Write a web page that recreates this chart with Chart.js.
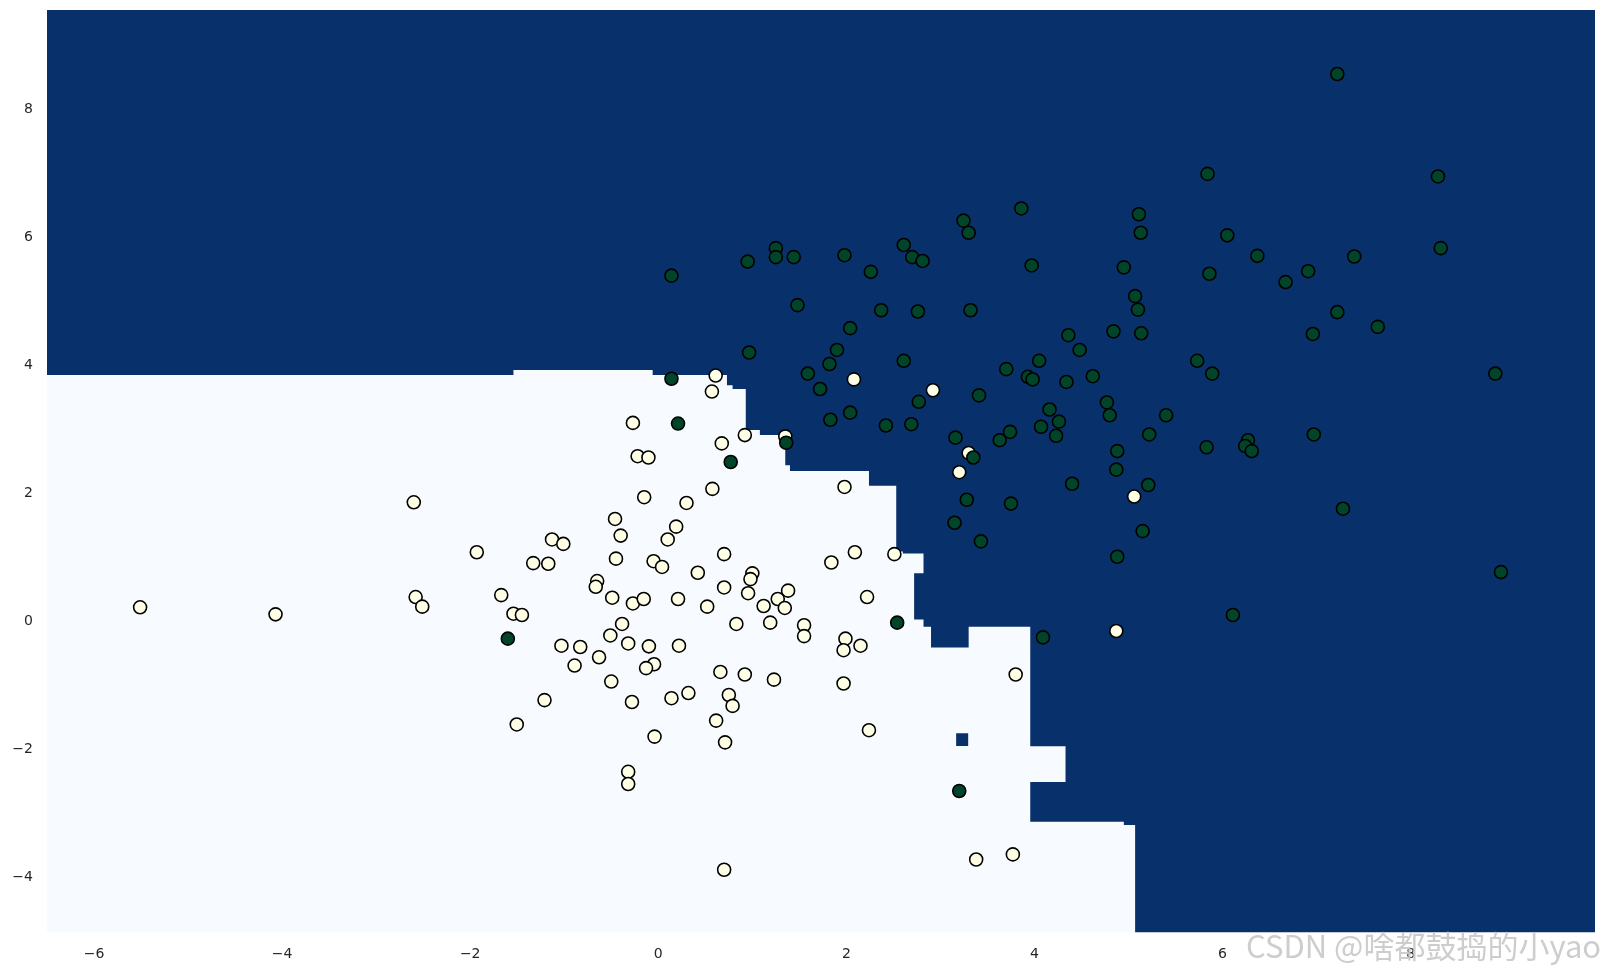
<!DOCTYPE html>
<html>
<head>
<meta charset="utf-8">
<script src="https://cdn.jsdelivr.net/npm/chart.js@4.4.1/dist/chart.umd.min.js"></script>
<style>
  body { margin: 0; background: #fff; }
  #wrap { position: relative; width: 1605px; height: 972px; }
  #marca {
    position: absolute; left: 1246px; top: 929px;
    font-family: "Noto Sans CJK SC", "Noto Sans", sans-serif; font-size: 31px; line-height: 31px;
    color: rgba(200, 200, 200, 0.9); white-space: nowrap;
  }
</style>
</head>
<body>
<div id="wrap">
  <canvas id="grafico" width="1605" height="972"></canvas>
  <div id="marca">CSDN @啥都鼓捣的小yao</div>
</div>
<script>
// ticks
const ticksX = [-6, -4, -2, 0, 2, 4, 6, 8];
const ticksY = [-4, -2, 0, 2, 4, 6, 8];

// classe 0 (pontos claros)
const classe0 = [
  [-5.51, 0.19], [-4.07, 0.08], [-2.60, 1.83], [-2.58, 0.35], [-2.51, 0.20],
  [-1.93, 1.05], [-1.67, 0.38], [-1.54, 0.09], [-1.45, 0.07], [-1.33, 0.88],
  [-1.17, 0.87], [-1.13, 1.25], [-1.01, 1.18], [-1.03, -0.41], [-0.83, -0.43],
  [-0.63, -0.59], [-0.89, -0.72], [-0.51, -0.25], [-0.32, -0.375], [-0.10, -0.42],
  [0.22, -0.41], [-0.045, -0.70], [-0.13, -0.76], [-0.50, -0.97], [-1.21, -1.26],
  [-1.505, -1.64], [-0.28, -1.29], [0.14, -1.23], [0.32, -1.15], [-0.04, -1.83],
  [-0.32, -2.38], [-0.32, -2.57], [-0.27, 3.07], [-0.22, 2.55], [-0.105, 2.53],
  [-0.15, 1.91], [0.30, 1.82], [-0.46, 1.57], [0.19, 1.45], [-0.40, 1.31],
  [0.10, 1.25], [-0.45, 0.95], [-0.05, 0.91], [0.04, 0.82], [0.42, 0.73],
  [-0.65, 0.60], [-0.665, 0.51], [-0.49, 0.34], [-0.27, 0.25], [-0.155, 0.32],
  [0.21, 0.32], [-0.385, -0.07], [0.61, 3.81], [0.57, 3.56], [0.92, 2.88],
  [1.35, 2.86], [0.675, 2.75], [0.575, 2.04], [1.98, 2.07], [0.70, 1.02],
  [2.09, 1.05], [1.84, 0.89], [2.51, 1.02], [1.00, 0.72], [0.98, 0.63],
  [0.70, 0.50], [0.955, 0.41], [1.38, 0.45], [1.27, 0.32], [1.345, 0.18],
  [1.12, 0.21], [0.52, 0.20], [2.22, 0.35], [0.83, -0.07], [1.19, -0.05],
  [1.55, -0.09], [1.55, -0.26], [1.99, -0.30], [1.97, -0.48], [2.15, -0.41],
  [0.66, -0.82], [0.92, -0.86], [1.23, -0.94], [1.97, -1.00], [0.75, -1.18],
  [0.79, -1.35], [0.615, -1.58], [0.71, -1.92], [2.24, -1.73], [3.80, -0.86],
  [3.38, -3.75], [3.77, -3.67], [0.70, -3.91], [2.08, 3.75], [2.92, 3.58],
  [3.30, 2.60], [3.20, 2.30], [5.06, 1.92], [4.87, -0.18]
];

// classe 1 (pontos escuros)
const classe1 = [
  [7.22, 8.52], [5.84, 6.96], [8.29, 6.92], [3.86, 6.42], [3.245, 6.23],
  [3.30, 6.04], [5.11, 6.33], [5.13, 6.04], [6.05, 6.00], [8.32, 5.80],
  [1.25, 5.80], [1.25, 5.66], [1.44, 5.66], [0.95, 5.59], [1.98, 5.69],
  [2.61, 5.85], [2.70, 5.66], [2.81, 5.60], [2.26, 5.43], [0.14, 5.37],
  [3.97, 5.53], [4.95, 5.50], [6.37, 5.68], [7.40, 5.67], [5.86, 5.40],
  [6.91, 5.44], [6.67, 5.27], [5.07, 5.05], [5.10, 4.84], [1.48, 4.91],
  [2.37, 4.83], [2.76, 4.81], [3.32, 4.83], [7.22, 4.80], [7.65, 4.57],
  [2.04, 4.55], [4.36, 4.44], [4.84, 4.50], [5.135, 4.47], [6.96, 4.46],
  [4.48, 4.21], [1.90, 4.21], [0.966, 4.17], [2.61, 4.04], [4.05, 4.04],
  [5.73, 4.04], [1.82, 3.99], [3.70, 3.91], [1.59, 3.84], [5.89, 3.84],
  [8.90, 3.84], [3.93, 3.79], [3.98, 3.75], [4.34, 3.71], [4.62, 3.80],
  [0.14, 3.76], [1.72, 3.60], [3.41, 3.50], [2.77, 3.40], [4.77, 3.39],
  [4.16, 3.28], [4.80, 3.19], [5.40, 3.19], [2.04, 3.23], [1.83, 3.12],
  [2.42, 3.03], [2.69, 3.05], [4.26, 3.09], [4.07, 3.01], [0.21, 3.06],
  [4.23, 2.87], [5.22, 2.89], [6.97, 2.89], [3.16, 2.84], [3.74, 2.93],
  [3.63, 2.80], [1.36, 2.76], [6.27, 2.80], [6.24, 2.71], [6.31, 2.63],
  [5.83, 2.69], [4.88, 2.63], [3.35, 2.53], [0.77, 2.46], [4.87, 2.34],
  [4.40, 2.12], [5.21, 2.10], [3.28, 1.87], [3.75, 1.81], [7.28, 1.73],
  [3.15, 1.51], [5.15, 1.38], [3.43, 1.22], [4.88, 0.98], [8.96, 0.74],
  [6.11, 0.07], [2.54, -0.05], [4.09, -0.28], [-1.60, -0.30], [3.20, -2.68]
];

// contorno da regiao escura (classe 1) da grade de previsao
const regiaoEscura = [
  [-6.5, 9.52], [-6.5, 3.82], [-1.54, 3.82], [-1.54, 3.895], [-0.06, 3.895],
  [-0.06, 3.82], [0.73, 3.82], [0.73, 3.66], [0.79, 3.66], [0.79, 3.60],
  [0.93, 3.60], [0.93, 2.96], [1.08, 2.96], [1.08, 2.88], [1.35, 2.88],
  [1.35, 2.41], [1.40, 2.41], [1.40, 2.32], [2.24, 2.32], [2.24, 2.09],
  [2.53, 2.09], [2.53, 1.06], [2.60, 1.06], [2.60, 1.03], [2.82, 1.03],
  [2.82, 0.72], [2.72, 0.72], [2.72, 0.0], [2.82, 0.0], [2.82, -0.115],
  [2.90, -0.115], [2.90, -0.44], [3.30, -0.44], [3.30, -0.115], [3.955, -0.115],
  [3.955, -1.98], [4.33, -1.98], [4.33, -2.54], [3.955, -2.54], [3.955, -3.16],
  [4.95, -3.16], [4.95, -3.21], [5.07, -3.21], [5.07, -4.89], [9.96, -4.89],
  [9.96, 9.52], [-6.5, 9.52]
];
const quadradoEscuro = [
  [3.167, -1.777], [3.295, -1.777], [3.295, -1.975], [3.167, -1.975], [3.167, -1.777]
];

const corFundo = '#f7fbff';
const corRegiao = '#08306b';
const corClasse0 = '#ffffe5';
const corClasse1 = '#004529';

const paraXY = lista => lista.map(p => ({ x: p[0], y: p[1] }));
const formatarTick = v => (v < 0 ? '\u2212' + Math.abs(v) : String(v));

function zerarPadding(s) {
  s.paddingTop = 0;
  s.paddingBottom = 0;
  s.paddingLeft = 0;
  s.paddingRight = 0;
}

const fundoPlugin = {
  id: 'fundo',
  beforeDraw(chart) {
    const a = chart.chartArea;
    const ctx = chart.ctx;
    ctx.save();
    ctx.fillStyle = corFundo;
    ctx.fillRect(a.left, a.top, a.right - a.left, a.bottom - a.top);
    ctx.restore();
  }
};

function criarRegiao(lista, ordem) {
  return {
    type: 'line',
    data: paraXY(lista),
    backgroundColor: corRegiao,
    borderWidth: 0,
    pointRadius: 0,
    fill: 'shape',
    tension: 0,
    order: ordem
  };
}

function criarPontos(lista, cor, ordem) {
  return {
    type: 'scatter',
    data: paraXY(lista),
    backgroundColor: cor,
    borderColor: '#000000',
    borderWidth: 1.6,
    pointRadius: 6.5,
    order: ordem
  };
}

new Chart(document.getElementById('grafico'), {
  type: 'scatter',
  data: {
    datasets: [
      criarPontos(classe1, corClasse1, 0),
      criarPontos(classe0, corClasse0, 1),
      criarRegiao(quadradoEscuro, 2),
      criarRegiao(regiaoEscura, 3)
    ]
  },
  options: {
    responsive: false,
    devicePixelRatio: 1,
    animation: false,
    events: [],
    layout: { padding: { top: 10, right: 10, left: 0, bottom: 0 } },
    plugins: { legend: { display: false }, tooltip: { enabled: false } },
    scales: {
      x: {
        type: 'linear',
        min: -6.5,
        max: 9.96,
        grid: { display: false, drawTicks: false },
        border: { display: false },
        afterBuildTicks: s => { s.ticks = ticksX.map(v => ({ value: v })); },
        afterFit: s => { s.height = 39.5; zerarPadding(s); },
        ticks: {
          padding: 13,
          color: '#262626',
          font: { family: 'DejaVu Sans', size: 14 },
          maxRotation: 0,
          callback: formatarTick
        }
      },
      y: {
        type: 'linear',
        min: -4.89,
        max: 9.52,
        grid: { display: false, drawTicks: false },
        border: { display: false },
        afterBuildTicks: s => { s.ticks = ticksY.map(v => ({ value: v })); },
        afterFit: s => { s.width = 47; zerarPadding(s); },
        ticks: {
          padding: 14,
          labelOffset: 2,
          color: '#262626',
          font: { family: 'DejaVu Sans', size: 14 },
          callback: formatarTick
        }
      }
    }
  },
  plugins: [fundoPlugin]
});
</script>
</body>
</html>
